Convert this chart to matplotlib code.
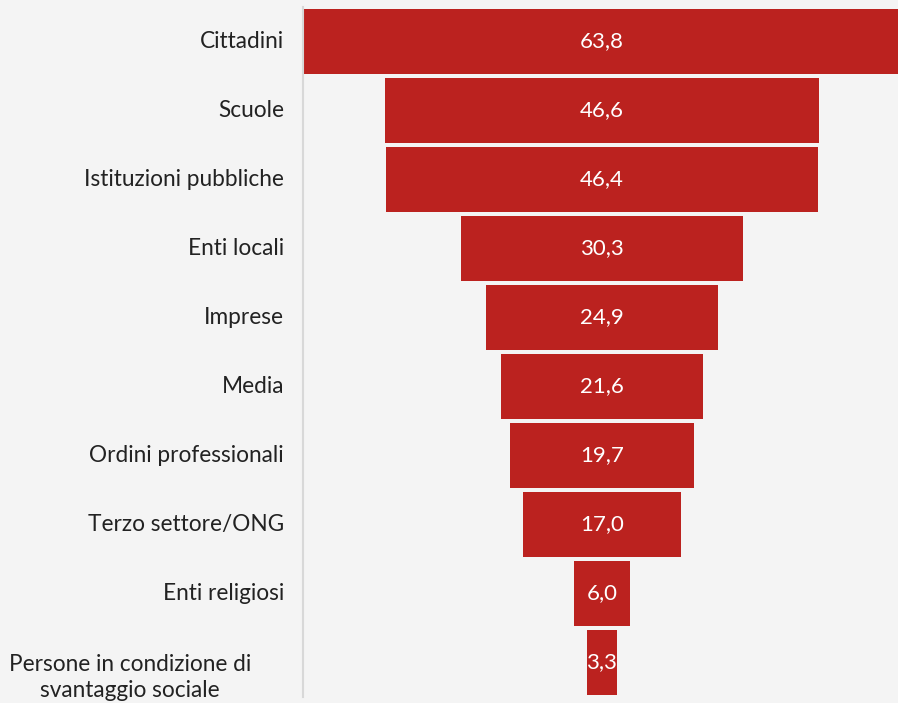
import matplotlib.pyplot as plt
import matplotlib.transforms as mtransforms

categories = ['Cittadini', 'Scuole', 'Istituzioni pubbliche', 'Enti locali', 'Imprese',
              'Media', 'Ordini professionali', 'Terzo settore/ONG', 'Enti religiosi',
              'Persone in condizione di\nsvantaggio sociale']
values = [63.8, 46.6, 46.4, 30.3, 24.9, 21.6, 19.7, 17.0, 6.0, 3.3]

bg = '#f4f4f4'
red = '#bb221f'

plt.rcParams['font.family'] = ['Lato', 'DejaVu Sans']

f = plt.figure(figsize=(8.98, 7.03), dpi=100, facecolor=bg)
ax = f.add_axes([303 / 898, 6 / 703, 595 / 898, 690 / 703])
ax.set_facecolor(bg)

y = list(range(len(values)))
lefts = [-v / 2 for v in values]
ax.barh(y, values, left=lefts, height=0.93, color=red)

for i, v in enumerate(values):
    ax.text(0, i, ('%.1f' % v).replace('.', ','), color='white',
            ha='center', va='center', fontsize=16)

trans = mtransforms.blended_transform_factory(ax.transAxes, ax.transData)
for i, c in enumerate(categories):
    if '\n' in c:
        ax.text(-0.291, i + 0.22, c, transform=trans, ha='center', va='center',
                multialignment='center', fontsize=16.3, color='#222222',
                clip_on=False, linespacing=1.3)
    else:
        ax.text(-0.032, i, c, transform=trans, ha='right', va='center',
                fontsize=16.3, color='#222222')

ax.set_xlim(-32.05, 31.75)
ax.set_ylim(len(values) - 0.5, -0.5)
ax.set_xticks([])
ax.set_yticks([])
for s in ['top', 'right', 'bottom']:
    ax.spines[s].set_visible(False)
ax.spines['left'].set_color('#d8d8d8')
ax.spines['left'].set_linewidth(1.5)

f.savefig('out.png', dpi=100, facecolor=bg)
